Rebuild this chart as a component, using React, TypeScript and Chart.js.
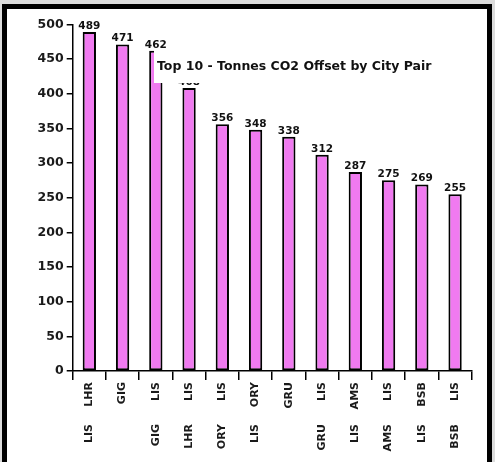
import React, { useEffect, useRef } from "react";
import { Chart, registerables } from "chart.js";

Chart.register(...registerables);

const topLabels = ["LHR", "GIG", "LIS", "LIS", "LIS", "ORY", "GRU", "LIS", "AMS", "LIS", "BSB", "LIS"];
const bottomLabels = ["LIS", "", "GIG", "LHR", "ORY", "LIS", "", "GRU", "LIS", "AMS", "LIS", "BSB"];
const values = [489, 471, 462, 408, 356, 348, 338, 312, 287, 275, 269, 255];
const yMin = 0;
const yMax = 500;
const yStep = 50;
const chartTitle = "Top 10 - Tonnes CO2 Offset by City Pair";

const FONT = "'DejaVu Sans', Verdana, sans-serif";

const overlayPlugin = {
  id: "overlay",
  afterDatasetsDraw(chart: any) {
    const ctx = chart.ctx;
    const meta = chart.getDatasetMeta(0);
    ctx.save();
    ctx.font = `bold 10.5px ${FONT}`;
    ctx.fillStyle = "#111";
    ctx.textAlign = "center";
    ctx.textBaseline = "alphabetic";
    meta.data.forEach((bar: any, i: number) => {
      ctx.fillText(String(values[i]), bar.x, bar.y - 3);
    });
    const ca = chart.chartArea;
    const bx = ca.left + 81.3;
    const by = ca.top + 24.7;
    const bw = 297;
    const bh = 34;
    ctx.fillStyle = "#fff";
    ctx.fillRect(bx, by, bw, bh);
    ctx.fillStyle = "#111";
    ctx.font = `bold 12.5px ${FONT}`;
    ctx.textAlign = "left";
    ctx.textBaseline = "middle";
    ctx.fillText(chartTitle, bx + 3, by + 17.5);
    ctx.restore();
  },
};

export default function App() {
  const ref = useRef<HTMLCanvasElement | null>(null);

  useEffect(() => {
    if (!ref.current) return;
    const chart = new Chart(ref.current, {
      type: "bar",
      data: {
        labels: topLabels,
        datasets: [
          {
            data: values,
            backgroundColor: "#f07af0",
            borderColor: "#000",
            borderWidth: 2,
            borderSkipped: false,
            barPercentage: 0.4,
            categoryPercentage: 1,
          },
        ],
      },
      options: {
        responsive: false,
        animation: false,
        layout: { padding: { left: 0, top: 15.3, right: 15.3, bottom: 0 } },
        plugins: {
          legend: { display: false },
          title: { display: false },
          tooltip: { enabled: false },
        },
        scales: {
          x: {
            type: "category",
            position: "bottom",
            offset: true,
            grid: {
              display: true,
              drawOnChartArea: false,
              drawTicks: true,
              tickLength: 9,
              color: "#000",
              lineWidth: 1.5,
              offset: true,
            },
            border: { display: true, color: "#000", width: 1.5 },
            ticks: {
              autoSkip: false,
              minRotation: 90,
              maxRotation: 90,
              padding: 2,
              color: "#1a1a1a",
              font: { family: FONT, size: 11, weight: "bold" },
            },
            afterFit: (s: any) => {
              s.height = 45;
            },
          },
          x2: {
            type: "category",
            position: "bottom",
            labels: bottomLabels,
            offset: true,
            grid: { display: false, drawTicks: false, offset: true },
            border: { display: false },
            ticks: {
              autoSkip: false,
              minRotation: 90,
              maxRotation: 90,
              padding: 8,
              color: "#1a1a1a",
              font: { family: FONT, size: 11, weight: "bold" },
            },
            afterFit: (s: any) => {
              s.height = 46;
            },
          },
          y: {
            min: yMin,
            max: yMax,
            grid: {
              display: true,
              drawOnChartArea: false,
              drawTicks: true,
              tickLength: 6,
              color: "#000",
              lineWidth: 1.5,
            },
            border: { display: true, color: "#000", width: 1.5 },
            ticks: {
              stepSize: yStep,
              padding: 3,
              color: "#1a1a1a",
              font: { family: FONT, size: 12.5, weight: "bold" },
            },
            afterFit: (s: any) => {
              s.width = 65.7;
            },
          },
        },
      },
      plugins: [overlayPlugin],
    });
    return () => chart.destroy();
  }, []);

  return (
    <div style={{ position: "fixed", inset: 0, background: "#dcdcdc", overflow: "hidden" }}>
      <div
        style={{
          position: "absolute",
          left: 2,
          top: 4,
          width: 480,
          height: 453,
          borderStyle: "solid",
          borderColor: "#000",
          borderWidth: "5px 5px 0 5px",
          background: "#fff",
        }}
      >
        <canvas ref={ref} width={480} height={453} style={{ display: "block" }} />
      </div>
    </div>
  );
}
